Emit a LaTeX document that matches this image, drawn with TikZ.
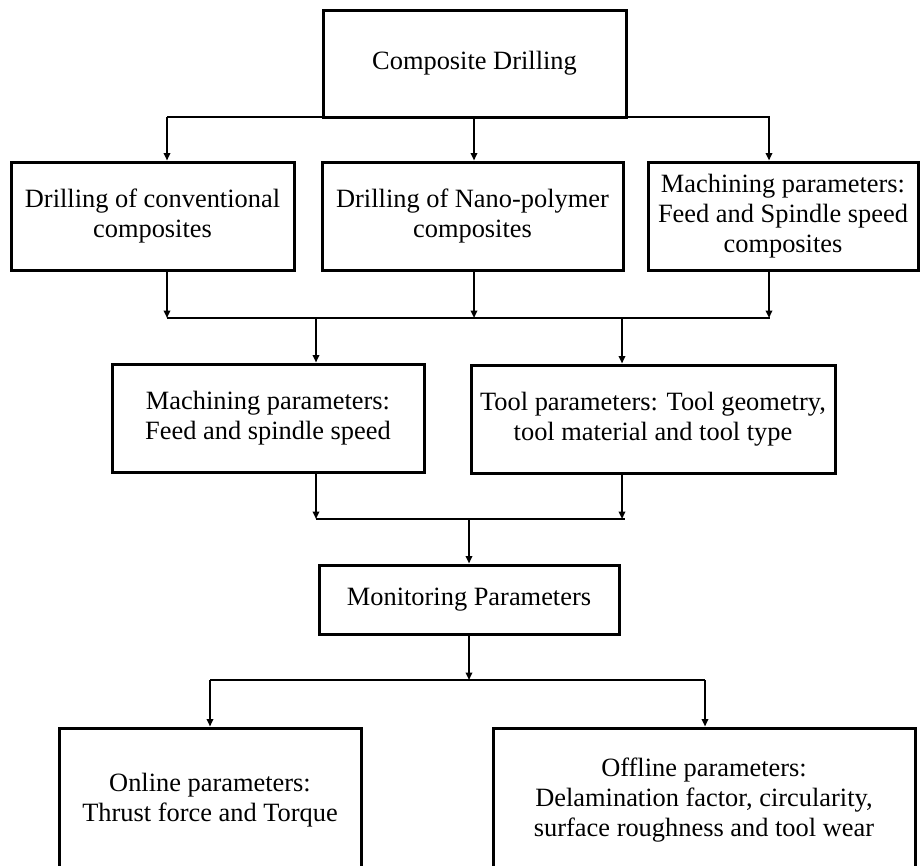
\documentclass[tikz,border=0pt]{standalone}
\usepackage{fontspec}
\setmainfont{Liberation Serif}
\usetikzlibrary{arrows.meta,calc}
\begin{document}
\begin{tikzpicture}[x=1pt,y=-1pt,
  box/.style={draw=black, line width=3pt, align=center, inner sep=0pt,
    font=\fontsize{26.4}{30}\selectfont},
  conn/.style={draw=black, line width=2pt},
  arr/.style={conn, -{Triangle[length=7.5pt,width=6.5pt]}}]
\useasboundingbox (0,0) rectangle (920,865);
\clip (0,0) rectangle (920,865);
% nodes
\node[box, minimum width=303pt, minimum height=107pt] (top) at (474.5,63.5) {Composite Drilling};
\node[box, minimum width=283pt, minimum height=108pt] (b1) at (152.5,216) {Drilling of conventional\\composites};
\node[box, minimum width=301pt, minimum height=108pt] (b2) at (472.5,216) {Drilling of Nano-polymer\\composites};
\node[box, minimum width=270pt, minimum height=108pt] (b3) at (783,216) {Machining parameters:\\Feed and Spindle speed\\composites};
\node[box, minimum width=312pt, minimum height=108pt] (mA) at (268,418) {Machining parameters:\\Feed and spindle speed};
\node[box, minimum width=364pt, minimum height=108pt] (mB) at (653,419) {Tool parameters: Tool geometry,\\tool material and tool type};
\node[box, minimum width=300pt, minimum height=69pt] (mon) at (469,599.5) {Monitoring Parameters};
\node[box, minimum width=302pt, minimum height=144pt] (on) at (210,800) {Online parameters:\\Thrust force and Torque};
\node[box, minimum width=422pt, minimum height=144pt] (off) at (704,800) {Offline parameters:\\Delamination factor, circularity,\\surface roughness and tool wear};
% junction coordinates
\coordinate (t1) at (167,117);
\coordinate (t2) at (474,117);
\coordinate (t3) at (769,117);
\coordinate (tE) at (770,117);
\coordinate (u1) at (167,318);
\coordinate (u2) at (474,318);
\coordinate (u3) at (769,318);
\coordinate (uE) at (770,318);
\coordinate (uA) at (316,318);
\coordinate (uB) at (622,318);
\coordinate (v1) at (316,519);
\coordinate (v2) at (622,519);
\coordinate (vE) at (625,519);
\coordinate (vM) at (469,519);
\coordinate (w0) at (469,680);
\coordinate (w1) at (210,680);
\coordinate (w2) at (705,680);
% connectors
\draw[conn] (t1) -- (tE);
\draw[arr] (t1) -- (t1 |- b1.north);
\draw[arr] (t2) -- (t2 |- b2.north);
\draw[arr] (t3) -- (t3 |- b3.north);
\draw[arr] (b1.south -| u1) -- (u1);
\draw[arr] (b2.south -| u2) -- (u2);
\draw[arr] (b3.south -| u3) -- (u3);
\draw[conn] (u1) -- (uE);
\draw[arr] (uA) -- (uA |- mA.north);
\draw[arr] (uB) -- (uB |- mB.north);
\draw[arr] (mA.south -| v1) -- (v1);
\draw[arr] (mB.south -| v2) -- (v2);
\draw[conn] (v1) -- (vE);
\draw[arr] (vM) -- (mon.north);
\draw[arr] (mon.south) -- (w0);
\draw[conn] (w1) -- (w2);
\draw[arr] (w1) -- (w1 |- on.north);
\draw[arr] (w2) -- (w2 |- off.north);
\end{tikzpicture}
\end{document}
